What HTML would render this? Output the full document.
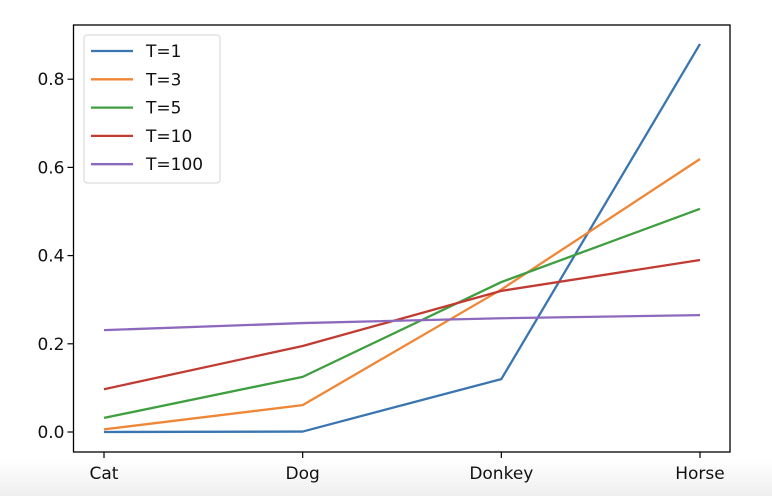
<!DOCTYPE html>
<html><head><meta charset="utf-8"><style>
body{margin:0;width:772px;height:496px;overflow:hidden;background:linear-gradient(#fff 0,#fff 458px,#efefef 496px);font-family:"DejaVu Sans","Liberation Sans",sans-serif}
svg{display:block}
text{font-family:"DejaVu Sans","Liberation Sans",sans-serif}
</style></head><body>
<svg id="chart" width="772" height="496" xmlns="http://www.w3.org/2000/svg"></svg>
<script>
const categories=["Cat","Dog","Donkey","Horse"];
const seriesNames=["T=1","T=3","T=5","T=10","T=100"];
const t1=[0.0,0.001,0.12,0.88];
const t3=[0.006,0.061,0.323,0.619];
const t5=[0.032,0.125,0.34,0.506];
const t10=[0.097,0.195,0.32,0.39];
const t100=[0.231,0.247,0.258,0.265];
const yTicks=[0.0,0.2,0.4,0.6,0.8];
const yTickLabels=["0.0","0.2","0.4","0.6","0.8"];
const allSeries=[t1,t3,t5,t10,t100];
const colors=["#3a75b0","#ef8636","#3f9e3f","#c13b33","#8c69bc"];
const L=73.5,R=730,T=25,B=452;
const x0=104,x1=700;
function xs(i){return x0+(x1-x0)*i/(categories.length-1);}
function ys(v){return 432-v*441;}
const svg=document.getElementById('chart');
const NS="http://www.w3.org/2000/svg";
function mk(tag,attrs,parent){const e=document.createElementNS(NS,tag);for(const k in attrs)e.setAttribute(k,attrs[k]);(parent||svg).appendChild(e);return e;}
allSeries.forEach((s,si)=>{
  const p=mk('polyline',{points:s.map((v,i)=>xs(i)+','+ys(v)).join(' '),fill:'none',stroke:colors[si],'stroke-width':2.3,'stroke-linejoin':'round'});
  
  
});
const f=mk('rect',{x:L,y:T,width:R-L,height:B-T,fill:'none',stroke:'#000','stroke-width':1.3});


yTicks.forEach((v,i)=>{
  const y=ys(v);
  const tk=mk('line',{x1:L-6,x2:L,y1:y,y2:y,stroke:'#000','stroke-width':1.2});
  
  
  const t=mk('text',{x:L-9,y:y+6,'text-anchor':'end','font-size':17,fill:'#111'});
  t.textContent=yTickLabels[i];
  
  
});
categories.forEach((c,i)=>{
  const x=xs(i);
  const tk=mk('line',{x1:x,x2:x,y1:B,y2:B+6,stroke:'#000','stroke-width':1.2});
  
  
  const t=mk('text',{x:x,y:479,'text-anchor':'middle','font-size':17,fill:'#111'});
  t.textContent=c;
  
  
});
const lg=mk('g',{});


mk('rect',{x:84,y:35,width:136,height:148,rx:3,fill:'#fff',stroke:'#d6d6d6','stroke-width':1},lg);
seriesNames.forEach((n,i)=>{
  const y=51+i*28.3;
  const g=mk('g',{},lg);
  
  
  mk('line',{x1:91,x2:133,y1:y,y2:y,stroke:colors[i],'stroke-width':2.3},g);
  const t=mk('text',{x:146,y:y+6,'font-size':17,fill:'#111'},g);
  t.textContent=n;
});
</script>
</body></html>
